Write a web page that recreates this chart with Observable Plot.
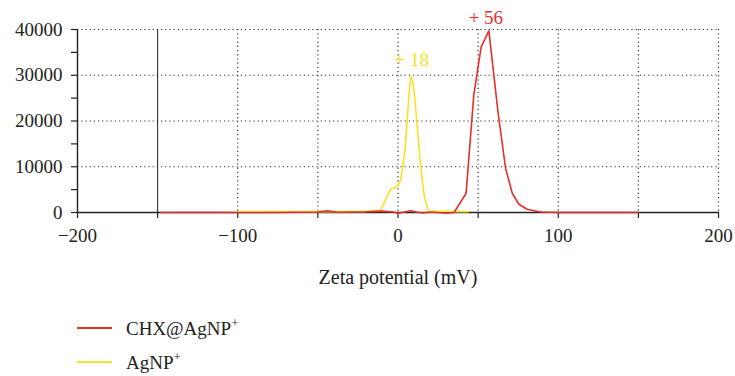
<!DOCTYPE html>
<html>
<head>
<meta charset="utf-8">
<script src="https://cdn.jsdelivr.net/npm/d3@7"></script>
<script src="https://cdn.jsdelivr.net/npm/@observablehq/plot@0.6"></script>
<style>
  body { margin: 0; background: #fff; font-family: "Liberation Serif", serif; }
  #wrap { position: relative; width: 735px; height: 376px; }
  #legend { position: absolute; left: 0; top: 300px; width: 735px; height: 76px; }
  .row { position: absolute; left: 77px; height: 20px; display: flex; align-items: center; font-size: 19px; color: #222; }
  .sw { width: 35px; height: 0; border-top: 2.5px solid; margin-right: 14px; }
  sup { font-size: 13px; position: relative; top: -1px; }
  svg text { font-family: "Liberation Serif", serif; }
</style>
</head>
<body>
<div id="wrap"><div id="chart"></div><div id="legend"></div></div>
<script>
// ---- data ----
const seriesNames = ["CHX@AgNP", "AgNP"];
const seriesColors = ["#e4302a", "#f7e224"];

const redX = [-148, -120, -100, -80, -60, -50, -44, -38, -30, -20, -10, -3, 0, 4, 8, 12, 16, 20, 25, 30, 35, 42.5, 47.3, 51.9, 56.7, 62.5, 67.1, 71.3, 75.4, 80.6, 88.9, 100, 120, 150];
const redY = [0, 0, 0, 0, 50, 100, 400, 50, 100, 150, 300, 100, -150, 100, 400, 50, -100, 100, 0, -150, 0, 4200, 25700, 36200, 39700, 21700, 9700, 4200, 1800, 700, 100, 0, 0, 0];

const yellowX = [-100, -80, -60, -40, -20, -11, -4.4, -0.8, 1.7, 4.4, 6.9, 7.9, 9.2, 10.6, 13.75, 16.4, 18.9, 25, 35, 44];
const yellowY = [200, 200, 200, 200, 250, 400, 5200, 5500, 7100, 13600, 25900, 29800, 28600, 24600, 11500, 3500, 300, 250, 200, 200];

const peakLabels = ["+ 56", "+ 18"];
const xTickValues = [-200, -150, -100, -50, 0, 50, 100, 150, 200];
const xTickLabels = {"-200": "\u2212200", "-100": "\u2212100", "0": "0", "100": "100", "200": "200"};
const yTickValues = [0, 5000, 10000, 15000, 20000, 25000, 30000, 35000, 40000];
const yTickLabels = {"0": "0", "10000": "10000", "20000": "20000", "30000": "30000", "40000": "40000"};
const xGrid = [-100, -50, 0, 50, 100, 150, 200];
const yGrid = [10000, 20000, 30000, 40000];
const solidRule = [-150];
const xTitle = "Zeta potential (mV)";

// ---- build tables ----
const red = redX.map((x, i) => ({x, y: redY[i]}));
const yellow = yellowX.map((x, i) => ({x, y: yellowY[i]}));
const peakOf = arr => arr.reduce((a, b) => (b.y > a.y ? b : a));
const redPeak = peakOf(red), yellowPeak = peakOf(yellow);
const font = "Liberation Serif";

const chart = Plot.plot({
  width: 735,
  height: 300,
  marginLeft: 77,
  marginRight: 17,
  marginTop: 29,
  marginBottom: 88,
  style: {fontFamily: font, fontSize: "19px", color: "#222", background: "#fff", overflow: "visible"},
  x: {domain: [-200, 200]},
  y: {domain: [0, 40000]},
  marks: [
    Plot.gridY(yGrid, {stroke: "#333", strokeOpacity: 1, strokeWidth: 1.2, strokeDasharray: "1.2,3"}),
    Plot.gridX(xGrid, {stroke: "#333", strokeOpacity: 1, strokeWidth: 1.2, strokeDasharray: "1.2,3"}),
    Plot.ruleX(solidRule, {stroke: "#222", strokeWidth: 1}),
    Plot.axisX({ticks: xTickValues, tickFormat: d => xTickLabels[String(d)] ?? "", tickSize: 6, tickPadding: 10, label: null, stroke: "#222", strokeWidth: 1.2, fontFamily: font, fontSize: 19}),
    Plot.axisY({ticks: yTickValues, tickFormat: d => yTickLabels[String(d)] ?? "", tickSize: 6, tickPadding: 9, label: null, stroke: "#222", strokeWidth: 1.2, fontFamily: font, fontSize: 19}),
    Plot.ruleY([0], {stroke: "#222", strokeWidth: 1.4}),
    Plot.ruleX([-200], {stroke: "#222", strokeWidth: 1.4}),
    Plot.line(yellow, {x: "x", y: "y", stroke: seriesColors[1], strokeWidth: 1.6}),
    Plot.line(red, {x: "x", y: "y", stroke: seriesColors[0], strokeWidth: 1.6}),
    Plot.text([redPeak], {x: "x", y: "y", text: () => peakLabels[0], fill: seriesColors[0], fontFamily: font, fontSize: 19, dx: -3, dy: -13}),
    Plot.text([yellowPeak], {x: "x", y: "y", text: () => peakLabels[1], fill: seriesColors[1], fontFamily: font, fontSize: 19, dx: 1, dy: -16}),
    Plot.text([xTitle], {frameAnchor: "bottom", text: d => d, dy: 71, fontFamily: font, fontSize: 20, fill: "#222"})
  ]
});
document.getElementById("chart").appendChild(chart);

// ---- legend ----
const legend = document.getElementById("legend");
const rowCenters = [28, 62];
seriesNames.forEach((name, i) => {
  const row = document.createElement("div");
  row.className = "row";
  row.style.top = (rowCenters[i] - 10) + "px";
  const sw = document.createElement("div");
  sw.className = "sw";
  sw.style.borderTopColor = seriesColors[i];
  const label = document.createElement("span");
  label.innerHTML = name + "<sup>+</sup>";
  row.appendChild(sw);
  row.appendChild(label);
  legend.appendChild(row);
});
</script>
</body>
</html>
